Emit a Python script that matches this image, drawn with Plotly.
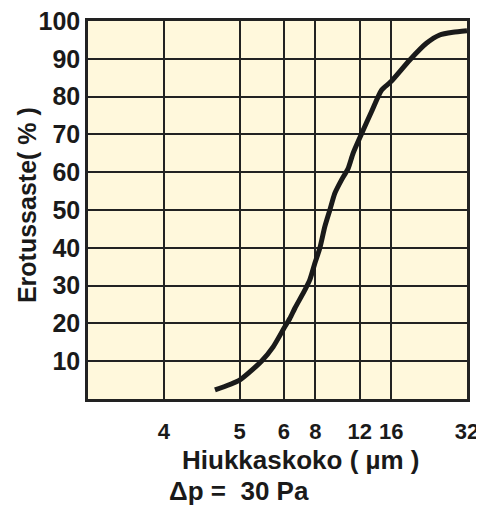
import numpy as np
import plotly.graph_objects as go

# Axis ticks (hand-drawn particle-size scale)
tick_sizes = [4, 5, 6, 8, 12, 16, 32]
tick_labels = ["4", "5", "6", "8", "12", "16", "32"]
tick_pos = [1, 2, 2.585, 3, 3.585, 4, 5]  # position of each tick along the axis

y_ticks = [10, 20, 30, 40, 50, 60, 70, 80, 90, 100]

# Separation efficiency curve
size_um = [4.65, 5.0, 5.47, 5.74, 6.0, 6.33, 6.63, 7.26, 7.60, 7.96, 8.33, 8.72,
           9.13, 9.55, 10.15, 10.79, 11.29, 12.19, 13.36, 14.64, 15.93, 18.96,
           22.08, 24.93, 28.15, 32.0]
efficiency = [2.4, 5.0, 10.0, 13.8, 18.7, 21.3, 24.0, 28.8, 31.5, 35.9, 39.9, 45.6,
              50.0, 54.4, 57.9, 61.0, 65.0, 70.1, 76.0, 81.7, 83.9, 89.7,
              94.1, 96.3, 97.0, 97.4]

x_axis = np.interp(np.log2(size_um), np.log2(tick_sizes), tick_pos)

fig = go.Figure()
fig.add_trace(go.Scatter(
    x=x_axis, y=efficiency, mode="lines",
    line=dict(color="#1a1a1a", width=5, shape="spline", smoothing=0.6),
    hoverinfo="skip", showlegend=False,
))

font_family = "Liberation Sans, Arial, sans-serif"

# page body has a default 8px margin, so the figure starts 8px in from the window edge
fig.update_layout(
    width=476, height=500,
    margin=dict(l=80, r=17, t=13, b=109),
    paper_bgcolor="white",
    plot_bgcolor="#FFF8DC",
    font=dict(family=font_family, color="#1a1a1a"),
    xaxis=dict(
        range=[0, 5], tickmode="array", tickvals=tick_pos, ticktext=tick_labels,
        showgrid=True, gridcolor="#222222", gridwidth=2,
        showline=True, linecolor="#222222", linewidth=2.5, mirror=True,
        zeroline=False, ticks="", ticklabelstandoff=11, automargin=False,
        ticklabeloverflow="allow",
        tickfont=dict(size=22, family=font_family, weight="bold", color="#1a1a1a"),
        fixedrange=True,
    ),
    yaxis=dict(
        range=[0, 100], tickmode="array", tickvals=y_ticks,
        showgrid=True, gridcolor="#222222", gridwidth=2,
        showline=True, linecolor="#222222", linewidth=2.5, mirror=True,
        zeroline=False, ticks="", ticklabelstandoff=0, automargin=False,
        ticklabeloverflow="allow",
        tickfont=dict(size=25, family=font_family, weight="bold", color="#1a1a1a"),
        fixedrange=True,
    ),
    annotations=[
        dict(text="Hiukkaskoko ( µm )", xref="paper", yref="paper", x=0.5616, y=-0.161,
             xanchor="center", yanchor="middle", showarrow=False,
             font=dict(size=26, family=font_family, weight="bold", color="#1a1a1a")),
        dict(text="Δp =  30 Pa", xref="paper", yref="paper", x=0.398, y=-0.243,
             xanchor="center", yanchor="middle", showarrow=False,
             font=dict(size=26, family=font_family, weight="bold", color="#1a1a1a")),
        dict(text="Erotussaste( % )", xref="paper", yref="paper", x=-0.161, y=0.513,
             xanchor="center", yanchor="middle", textangle=-90, showarrow=False,
             font=dict(size=25, family=font_family, weight="bold", color="#1a1a1a")),
    ],
)

fig.write_html("out.html")
